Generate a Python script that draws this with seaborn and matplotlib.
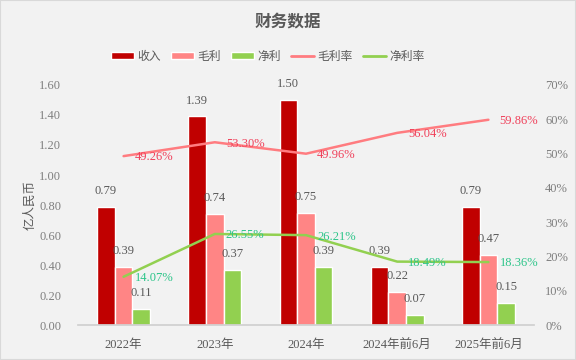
import pandas as pd
import numpy as np
import matplotlib
matplotlib.use('Agg')
import matplotlib.pyplot as plt
import seaborn as sns
from matplotlib.patches import Patch
from matplotlib.lines import Line2D

# 数据
periods = ['2022年', '2023年', '2024年', '2024年前6月', '2025年前6月']
revenue = [0.79, 1.39, 1.50, 0.39, 0.79]
gross_profit = [0.39, 0.74, 0.75, 0.22, 0.47]
net_profit = [0.11, 0.37, 0.39, 0.07, 0.15]
gross_margin = [49.26, 53.30, 49.96, 56.04, 59.86]
net_margin = [14.07, 26.55, 26.21, 18.49, 18.36]

series_names = ['收入', '毛利', '净利']
bar_colors = ['#C00000', '#FF8585', '#92D050']
gm_color = '#FF7C80'
nm_color = '#92D050'

sns.set_theme(style='white')
plt.rcParams['font.family'] = ['Liberation Serif', 'Noto Sans CJK SC']
plt.rcParams['axes.unicode_minus'] = False

df = pd.DataFrame({
    '期间': periods * 3,
    '系列': [s for s in series_names for _ in periods],
    '金额': revenue + gross_profit + net_profit,
})

fig = plt.figure(figsize=(5.76, 3.6), dpi=100, facecolor='#F2F2F2')
ax = fig.add_axes([0.1354, 0.0972, 0.7917, 0.6667])
ax.set_facecolor('#F2F2F2')

sns.barplot(data=df, x='期间', y='金额', hue='系列', palette=bar_colors,
            width=0.58, ax=ax, legend=False, saturation=1)
for cont in ax.containers:
    ax.bar_label(cont, fmt='%.2f', padding=7, color='#595959', fontsize=9)

ax.set_ylim(0, 1.6)
ax.set_yticks(np.arange(0, 1.61, 0.2))
ax.set_yticklabels([f'{v:.2f}' for v in np.arange(0, 1.61, 0.2)])
ax.set_xlim(-0.5, len(periods) - 0.5)
ax.set_xlabel('')
ax.set_ylabel('亿人民币', color='#595959', fontsize=9, labelpad=2)
ax.tick_params(axis='y', colors='#7F7F7F', labelsize=9, length=0, pad=12)
ax.tick_params(axis='x', colors='#595959', labelsize=9, length=0, pad=10)
ax.set_xticks(range(len(periods)))
ax.set_xticklabels(periods)
ax.set_xticks(np.arange(-0.5, len(periods)), minor=True)
ax.tick_params(axis='x', which='minor', length=4, color='#D0D0D0', width=1)
for s in ['top', 'right', 'left']:
    ax.spines[s].set_visible(False)
ax.spines['bottom'].set_color('#D0D0D0')

ax2 = ax.twinx()
xs = np.arange(len(periods))
sns.lineplot(x=xs, y=gross_margin, color=gm_color, linewidth=1.8, ax=ax2)
sns.lineplot(x=xs, y=net_margin, color=nm_color, linewidth=1.8, ax=ax2)
for x, v in zip(xs, gross_margin):
    ax2.annotate(f'{v:.2f}%', (x, v), xytext=(8, -1), textcoords='offset points',
                 ha='left', va='center', color='#F0405A', fontsize=9)
for x, v in zip(xs, net_margin):
    ax2.annotate(f'{v:.2f}%', (x, v), xytext=(8, -1), textcoords='offset points',
                 ha='left', va='center', color='#2DC58A', fontsize=9)
ax2.set_ylim(0, 70)
ax2.set_yticks(range(0, 71, 10))
ax2.set_yticklabels([f'{v}%' for v in range(0, 71, 10)])
ax2.tick_params(axis='y', colors='#7F7F7F', labelsize=9, length=0, pad=8)
for s in ['top', 'right', 'left', 'bottom']:
    ax2.spines[s].set_visible(False)
ax2.set_xlim(-0.5, len(periods) - 0.5)

fig.text(0.5, 0.937, '财务数据', ha='center', va='center', fontsize=12,
         fontweight='bold', color='#595959')

handles = [Patch(facecolor=c) for c in bar_colors] + [
    Line2D([0], [0], color=gm_color, lw=2),
    Line2D([0], [0], color=nm_color, lw=2)]
labels = series_names + ['毛利率', '净利率']
fig.legend(handles, labels, loc='center', bbox_to_anchor=(0.465, 0.842), ncol=5,
           frameon=False, fontsize=8.5, handlelength=1.9, handleheight=0.6,
           columnspacing=0.9, handletextpad=0.3, labelcolor='#595959')

fig.patches.append(plt.Rectangle((0, 0), 1, 1, transform=fig.transFigure,
                                 fill=False, edgecolor='#D9D9D9', lw=1.5))

fig.savefig('out.png', dpi=100, facecolor=fig.get_facecolor())
